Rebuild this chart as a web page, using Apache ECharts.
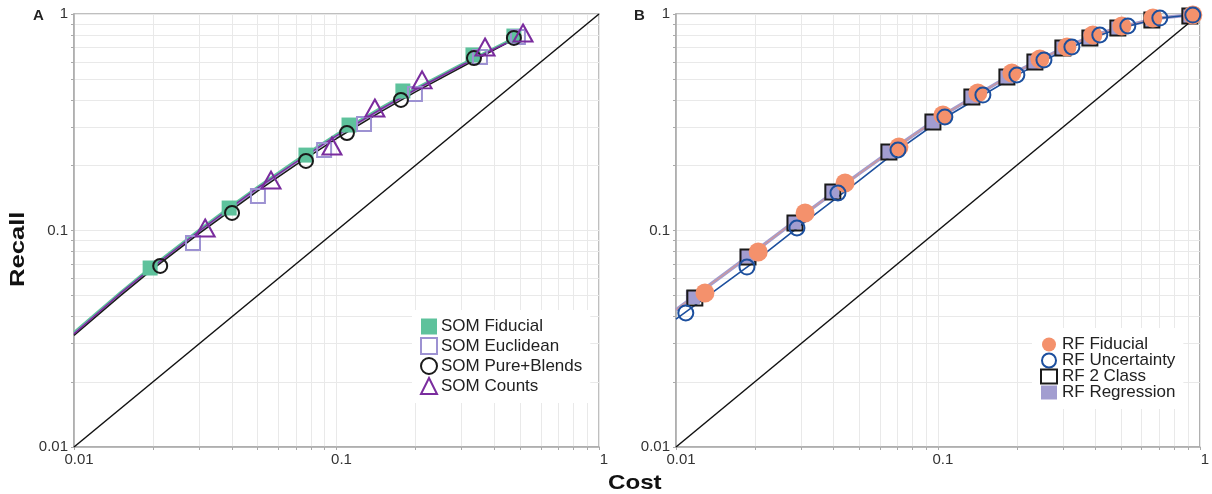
<!DOCTYPE html>
<html><head><meta charset="utf-8">
<script src="https://cdn.jsdelivr.net/npm/echarts@6/dist/echarts.min.js"></script>
<style>html,body{margin:0;padding:0;background:#fff}#c{width:1212px;height:494px}</style>
</head><body><div id="c"></div>
<script>
// ---------- Data ----------
const xTickLabels = [0.01, 0.1, 1];
const yTickLabels = [0.01, 0.1, 1];
const gridValues = [0.01,0.02,0.03,0.04,0.05,0.06,0.07,0.08,0.09,0.1,0.2,0.3,0.4,0.5,0.6,0.7,0.8,0.9,1];
const diagonal = [[0.01, 0.01], [1, 1]];

// Panel A markers
const somFiducial = [[0.0195,0.0671],[0.039,0.127],[0.0765,0.223],[0.1116,0.307],[0.179,0.441],[0.331,0.647],[0.474,0.791]];
const somEuclidean = [[0.0284,0.0876],[0.0502,0.1443],[0.0897,0.2354],[0.1273,0.310],[0.199,0.427],[0.352,0.633],[0.491,0.783]];
const somPureBlends = [[0.0213,0.0686],[0.040,0.1205],[0.0765,0.2095],[0.1096,0.282],[0.176,0.401],[0.334,0.626],[0.474,0.775]];
const somCounts = [[0.0316,0.1027],[0.0563,0.171],[0.0961,0.2456],[0.140,0.368],[0.2118,0.496],[0.368,0.704],[0.5135,0.817]];
// Panel A fitted curves
const somFiducialCurve = [[0.01,0.0340],[0.015,0.0518],[0.02,0.0690],[0.03,0.101],[0.04,0.131],[0.05,0.159],[0.07,0.211],[0.1,0.279],[0.15,0.374],[0.2,0.455],[0.3,0.588],[0.4,0.700],[0.48,0.782]];
const somEuclideanCurve = [[0.01,0.0335],[0.015,0.0508],[0.02,0.0675],[0.03,0.0985],[0.04,0.127],[0.05,0.155],[0.07,0.205],[0.1,0.272],[0.15,0.365],[0.2,0.445],[0.3,0.575],[0.4,0.686],[0.49,0.775]];
const somPureBlendsCurve = [[0.01,0.0328],[0.015,0.0499],[0.02,0.0665],[0.03,0.097],[0.04,0.125],[0.05,0.152],[0.07,0.201],[0.1,0.266],[0.15,0.358],[0.2,0.437],[0.3,0.568],[0.4,0.684],[0.475,0.765]];
const somCountsCurve = [[0.01,0.0333],[0.015,0.0512],[0.02,0.068],[0.03,0.0995],[0.04,0.129],[0.05,0.157],[0.07,0.207],[0.1,0.274],[0.15,0.368],[0.2,0.448],[0.3,0.58],[0.4,0.691],[0.5,0.785]];

// Panel B markers
const rfFiducial = [[0.0129,0.0514],[0.0206,0.0796],[0.0311,0.1205],[0.0442,0.1657],[0.071,0.243],[0.1045,0.3415],[0.142,0.4316],[0.1916,0.534],[0.245,0.62],[0.311,0.704],[0.3905,0.80],[0.504,0.88],[0.662,0.958],[0.94,0.989]];
const rfUncertainty = [[0.0109,0.0416],[0.01866,0.0678],[0.02896,0.1027],[0.04153,0.149],[0.0704,0.2354],[0.1063,0.3344],[0.1485,0.4224],[0.2002,0.5228],[0.254,0.613],[0.3247,0.704],[0.415,0.80],[0.531,0.88],[0.7035,0.958],[0.94,0.989]];
const rf2Class = [[0.0118,0.0488],[0.01883,0.0754],[0.02846,0.1083],[0.0397,0.1506],[0.065,0.2305],[0.0957,0.317],[0.1348,0.4137],[0.1834,0.5117],[0.2346,0.600],[0.300,0.697],[0.3804,0.775],[0.4864,0.862],[0.656,0.938],[0.916,0.979]];
const rfRegression = [[0.0116,0.0492],[0.01865,0.0758],[0.0282,0.1088],[0.0394,0.1512],[0.0646,0.2312],[0.0952,0.318],[0.1342,0.4147],[0.1828,0.5127],[0.2338,0.601],[0.299,0.698],[0.3795,0.776],[0.4855,0.863],[0.655,0.939],[0.915,0.980]];
// Panel B fitted curves
const rfMainCurve = [[0.01,0.043],[0.015,0.0618],[0.02,0.080],[0.03,0.116],[0.04,0.150],[0.05,0.183],[0.07,0.245],[0.1,0.330],[0.15,0.442],[0.2,0.542],[0.3,0.695],[0.4,0.800],[0.5,0.872],[0.7,0.958],[1,1]];
const rfUncertaintyCurve = [[0.01,0.039],[0.015,0.0558],[0.02,0.072],[0.03,0.106],[0.04,0.138],[0.05,0.170],[0.07,0.234],[0.1,0.318],[0.15,0.425],[0.2,0.522],[0.3,0.675],[0.4,0.785],[0.5,0.862],[0.7,0.955],[1,1]];

// ---------- Styles ----------
const C = {
  green: '#5ec29c', lav: '#9d92d2', black: '#1a1a1a', purple: '#7a2c9e',
  salmon: '#f4916c', blue: '#1c4f9e', reg: '#a29dd0'
};
const FONT = 'Liberation Sans, Arial, sans-serif';

function labelFmt(v) { return v < 0.05 ? '0.01' : (v < 0.5 ? '0.1' : '1'); }

function xAxisDef(gi) {
  return {
    type: 'log', logBase: 10, min: 0.01, max: 1, gridIndex: gi,
    axisLine: { show: true, lineStyle: { color: '#aaaaaa', width: 1.5 } },
    axisTick: { show: true, customValues: gridValues, length: 3, lineStyle: { color: '#aaaaaa' } },
    axisLabel: { customValues: xTickLabels, formatter: labelFmt, color: '#333', fontSize: 15, fontFamily: FONT, margin: 5, padding: [0, 0, 0, 10] },
    splitLine: { show: true, lineStyle: { color: '#e9e9e9', width: 1 } }
  };
}
function yAxisDef(gi) {
  return {
    type: 'log', logBase: 10, min: 0.01, max: 1, gridIndex: gi,
    axisLine: { show: true, lineStyle: { color: '#aaaaaa', width: 1.5 } },
    axisTick: { show: true, customValues: gridValues, length: 3, lineStyle: { color: '#aaaaaa' } },
    axisLabel: { customValues: yTickLabels, formatter: labelFmt, color: '#333', fontSize: 15, fontFamily: FONT, margin: 6 },
    splitLine: { show: true, lineStyle: { color: '#e9e9e9', width: 1 } }
  };
}

function lineSeries(gi, data, color, width, z) {
  return { type: 'line', xAxisIndex: gi, yAxisIndex: gi, data: data, showSymbol: false, symbol: 'none',
    smooth: false, lineStyle: { color: color, width: width, join: 'round' }, silent: true, z: z || 2, legendHoverLink: false };
}
function markerSeries(gi, name, data, symbol, size, fill, border, bw, z) {
  return { type: 'scatter', name: name, xAxisIndex: gi, yAxisIndex: gi, data: data, symbol: symbol, symbolSize: size,
    itemStyle: { color: fill, borderColor: border, borderWidth: bw, opacity: 1 }, z: z || 3 };
}

const series = [
  // Panel A
  lineSeries(0, diagonal, '#111', 1.5, 2),
  lineSeries(0, somFiducialCurve, C.green, 2),
  lineSeries(0, somEuclideanCurve, C.lav, 1.5),
  lineSeries(0, somPureBlendsCurve, C.black, 1.5),
  lineSeries(0, somCountsCurve, C.purple, 1.5),
  markerSeries(0, 'SOM Fiducial', somFiducial, 'rect', 15, C.green, C.green, 0, 3),
  markerSeries(0, 'SOM Euclidean', somEuclidean, 'rect', 14, 'rgba(255,255,255,0)', C.lav, 2, 4),
  markerSeries(0, 'SOM Pure+Blends', somPureBlends, 'circle', 14, 'rgba(255,255,255,0)', C.black, 2, 5),
  markerSeries(0, 'SOM Counts', somCounts, 'triangle', [19, 17], 'rgba(255,255,255,0)', C.purple, 2, 6),
  // Panel B
  lineSeries(1, diagonal, '#111', 1.5, 2),
  lineSeries(1, rfMainCurve, C.reg, 3.5),
  lineSeries(1, rfMainCurve, 'rgba(244,145,108,0.55)', 1.2),
  lineSeries(1, rfUncertaintyCurve, C.blue, 1.6),
  markerSeries(1, 'RF Regression', rfRegression, 'rect', 14, C.reg, C.reg, 0, 3),
  markerSeries(1, 'RF 2 Class', rf2Class, 'rect', 15, 'rgba(255,255,255,0)', C.black, 2, 4),
  markerSeries(1, 'RF Fiducial', rfFiducial, 'circle', 19, C.salmon, C.salmon, 0, 5),
  markerSeries(1, 'RF Uncertainty', rfUncertainty, 'circle', 15, 'rgba(255,255,255,0)', C.blue, 2, 6)
];

const chart = echarts.init(document.getElementById('c'), null, { renderer: 'canvas' });
chart.setOption({
  animation: false,
  backgroundColor: '#ffffff',
  textStyle: { fontFamily: FONT },
  grid: [
    { left: 74, right: 613, top: 14, bottom: 47, show: true, borderColor: '#aaaaaa', borderWidth: 1.5, backgroundColor: 'transparent' },
    { left: 676, right: 12, top: 14, bottom: 47, show: true, borderColor: '#aaaaaa', borderWidth: 1.5, backgroundColor: 'transparent' }
  ],
  xAxis: [xAxisDef(0), xAxisDef(1)],
  yAxis: [yAxisDef(0), yAxisDef(1)],
  legend: [
    { data: ['SOM Fiducial', 'SOM Euclidean', 'SOM Pure+Blends', 'SOM Counts'], orient: 'vertical', left: 412, top: 310,
      padding: [8, 8, 8, 8], backgroundColor: '#ffffff', itemWidth: 16, itemHeight: 16, itemGap: 2,
      textStyle: { fontSize: 17, color: '#222', fontFamily: FONT, padding: [0, 0, 0, -1] }, selectedMode: false, z: 10 },
    { data: ['RF Fiducial', 'RF Uncertainty', 'RF 2 Class', 'RF Regression'], orient: 'vertical', left: 1032, top: 328,
      padding: [8, 8, 8, 8], backgroundColor: '#ffffff', itemWidth: 16, itemHeight: 14, itemGap: -1,
      textStyle: { fontSize: 17, color: '#222', fontFamily: FONT, lineHeight: 14 }, selectedMode: false, z: 10 }
  ],
  graphic: [
    { type: 'text', left: 33, top: 8, style: { text: 'A', font: 'bold 15px ' + FONT, fill: '#222' } },
    { type: 'text', left: 634, top: 8, style: { text: 'B', font: 'bold 15px ' + FONT, fill: '#222' } },
    { type: 'text', x: 608, y: 473, scaleX: 1.15, style: { text: 'Cost', font: 'bold 21px ' + FONT, fill: '#111' } },
    { type: 'text', x: 8, y: 287, rotation: Math.PI / 2, scaleX: 1.22, style: { text: 'Recall', font: 'bold 21px ' + FONT, fill: '#111' } }
  ],
  series: series
});
</script>
</body></html>
